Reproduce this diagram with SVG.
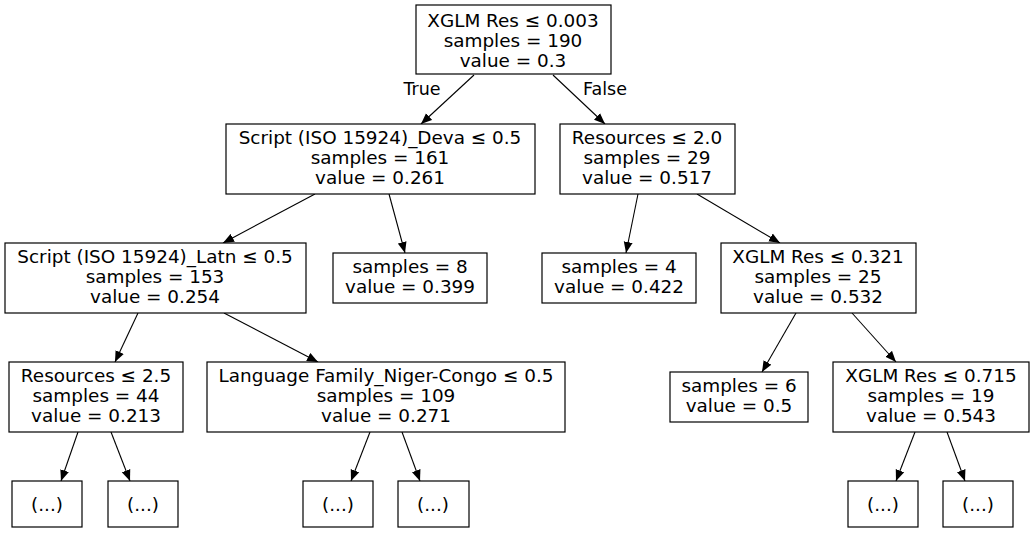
<svg xmlns="http://www.w3.org/2000/svg" width="1035" height="533" viewBox="0 0 1035 533">
<style>
rect{fill:#fff;stroke:#000;stroke-width:1.2}
text{font-family:"DejaVu Sans",sans-serif;font-size:18.4px;text-anchor:middle;fill:#000}
.e line{stroke:#000;stroke-width:1.1;marker-end:url(#ah)}
</style>
<defs>
<marker id="ah" markerUnits="userSpaceOnUse" markerWidth="12" markerHeight="10" refX="11" refY="5" orient="auto">
<path d="M0,0.5 L11,5 L0,9.5 z" fill="#000"/>
</marker>
</defs>
<rect x="0" y="0" width="1035" height="533" style="stroke:none"/>
<g class="e" id="edges">
<line x1="474" y1="75" x2="421" y2="124"/>
<line x1="553" y1="75" x2="605" y2="124"/>
<line x1="315" y1="194" x2="223" y2="243"/>
<line x1="389" y1="194" x2="405" y2="253"/>
<line x1="638" y1="194" x2="626" y2="253"/>
<line x1="697" y1="194" x2="780" y2="243"/>
<line x1="138" y1="313" x2="115" y2="362"/>
<line x1="224" y1="313" x2="318" y2="362"/>
<line x1="796" y1="313" x2="762" y2="372"/>
<line x1="852" y1="313" x2="896" y2="362"/>
<line x1="78" y1="432" x2="61" y2="481"/>
<line x1="111" y1="432" x2="130" y2="481"/>
<line x1="370" y1="432" x2="351" y2="481"/>
<line x1="402" y1="432" x2="420" y2="481"/>
<line x1="915" y1="432" x2="896" y2="481"/>
<line x1="947" y1="432" x2="965" y2="481"/>
<text x="422" y="95" style="font-size:17.5px">True</text>
<text x="605" y="95" style="font-size:17.5px">False</text>
</g>
<g id="n0"><rect x="416" y="5" width="195" height="69"/><text x="513" y="27">XGLM Res ≤ 0.003</text><text x="513" y="47">samples = 190</text><text x="513" y="67">value = 0.3</text></g>
<g id="n1"><rect x="226" y="124" width="309" height="70"/><text x="380" y="144">Script (ISO 15924)_Deva ≤ 0.5</text><text x="380" y="164">samples = 161</text><text x="380" y="184">value = 0.261</text></g>
<g id="n2"><rect x="560" y="124" width="175" height="70"/><text x="647" y="144">Resources ≤ 2.0</text><text x="647" y="164">samples = 29</text><text x="647" y="184">value = 0.517</text></g>
<g id="n3"><rect x="5" y="243" width="301" height="70"/><text x="155" y="263">Script (ISO 15924)_Latn ≤ 0.5</text><text x="155" y="283">samples = 153</text><text x="155" y="303">value = 0.254</text></g>
<g id="n4"><rect x="333" y="253" width="154" height="50"/><text x="410" y="273">samples = 8</text><text x="410" y="293">value = 0.399</text></g>
<g id="n5"><rect x="542" y="253" width="154" height="50"/><text x="619" y="273">samples = 4</text><text x="619" y="293">value = 0.422</text></g>
<g id="n6"><rect x="721" y="243" width="195" height="70"/><text x="818" y="263">XGLM Res ≤ 0.321</text><text x="818" y="283">samples = 25</text><text x="818" y="303">value = 0.532</text></g>
<g id="n7"><rect x="9" y="362" width="174" height="70"/><text x="96" y="382">Resources ≤ 2.5</text><text x="96" y="402">samples = 44</text><text x="96" y="422">value = 0.213</text></g>
<g id="n8"><rect x="207" y="362" width="358" height="70"/><text x="386" y="382">Language Family_Niger-Congo ≤ 0.5</text><text x="386" y="402">samples = 109</text><text x="386" y="422">value = 0.271</text></g>
<g id="n9"><rect x="670" y="372" width="138" height="50"/><text x="739" y="392">samples = 6</text><text x="739" y="412">value = 0.5</text></g>
<g id="n10"><rect x="833" y="362" width="196" height="70"/><text x="931" y="382">XGLM Res ≤ 0.715</text><text x="931" y="402">samples = 19</text><text x="931" y="422">value = 0.543</text></g>
<g id="l1"><rect x="12" y="481" width="70" height="46"/><text x="47" y="511">(...)</text></g>
<g id="l2"><rect x="108" y="481" width="70" height="46"/><text x="143" y="511">(...)</text></g>
<g id="l3"><rect x="303" y="481" width="70" height="46"/><text x="338" y="511">(...)</text></g>
<g id="l4"><rect x="398" y="481" width="71" height="46"/><text x="433" y="511">(...)</text></g>
<g id="l5"><rect x="848" y="481" width="70" height="46"/><text x="883" y="511">(...)</text></g>
<g id="l6"><rect x="943" y="481" width="70" height="46"/><text x="978" y="511">(...)</text></g>
</svg>
